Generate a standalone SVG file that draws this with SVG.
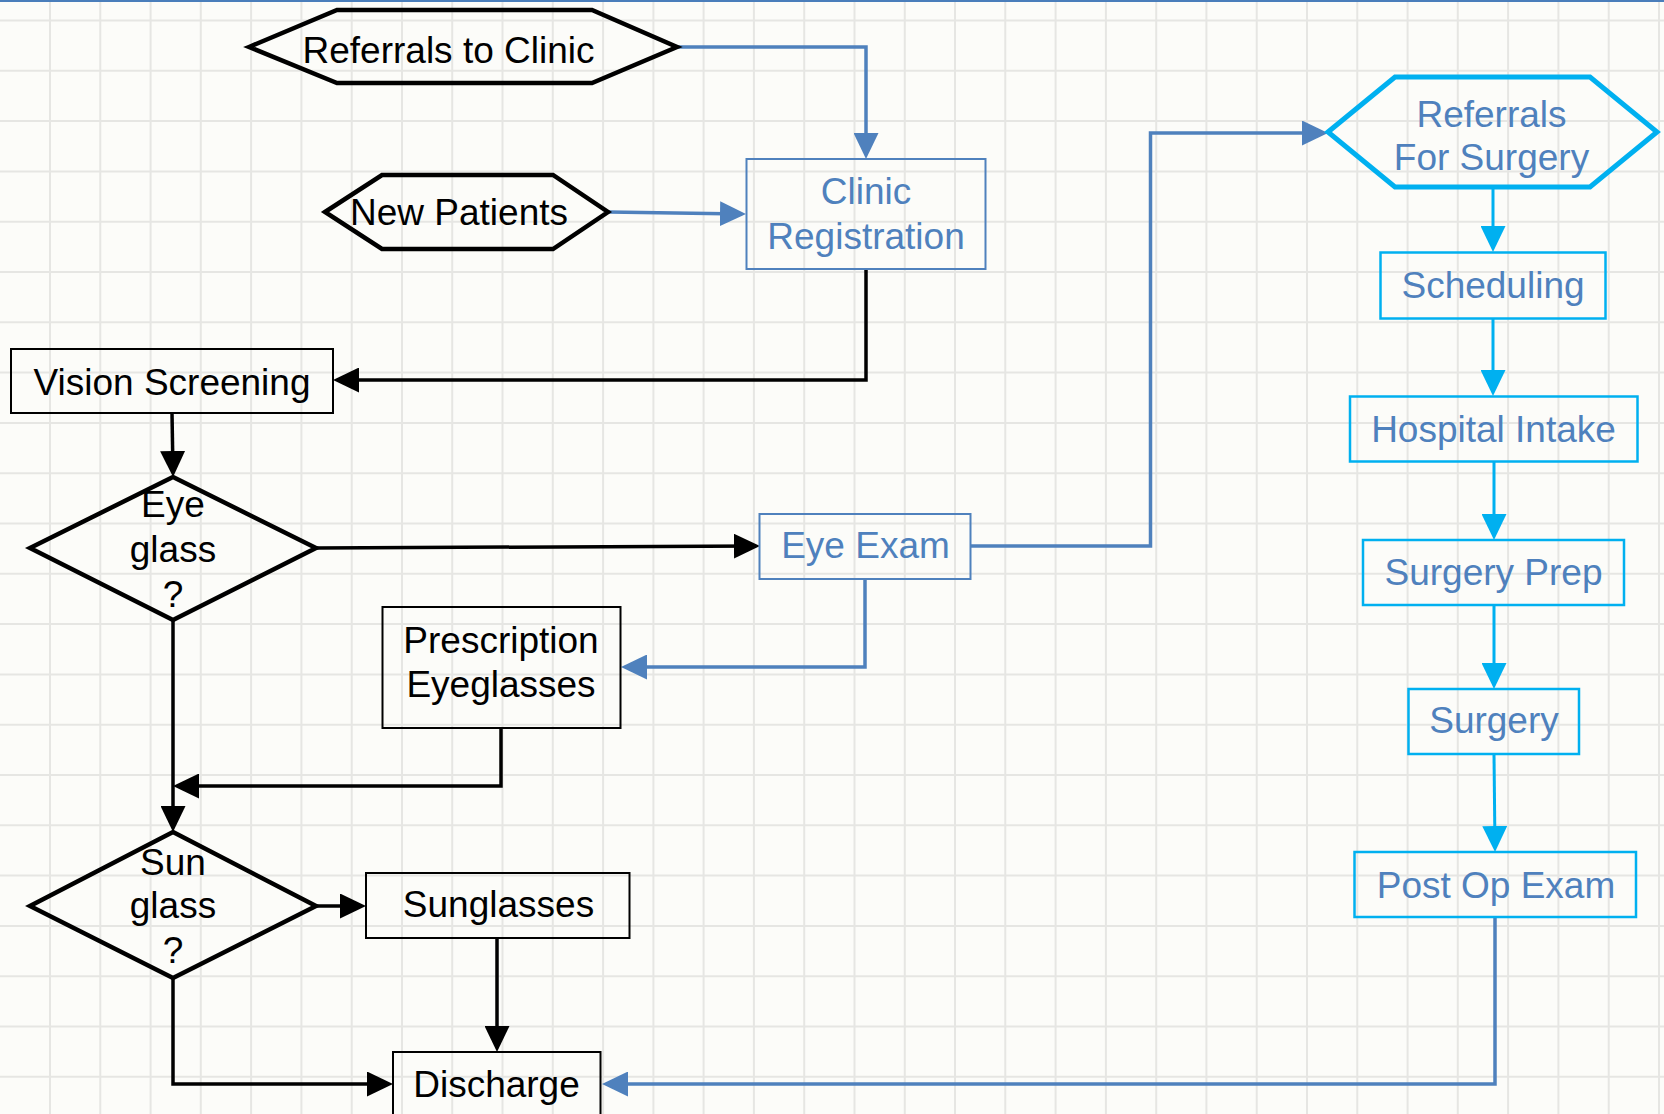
<svg xmlns="http://www.w3.org/2000/svg" width="1664" height="1114" viewBox="0 0 1664 1114">
  <defs>
    <style>
      .grid { stroke: #e6e6e3; stroke-width: 2; fill: none; }
      .lbl { font-family: "Liberation Sans", Arial, sans-serif; font-size: 37px; text-anchor: middle; }
      .dark { fill: #000000; }
      .steel { fill: #4f81bd; }
      .box-k { fill: none; stroke: #000000; stroke-width: 2; }
      .box-b { fill: none; stroke: #4f81bd; stroke-width: 2; }
      .box-c { fill: none; stroke: #00b0f0; stroke-width: 2.5; }
      .shape-k { fill: none; stroke: #000000; stroke-width: 4.5; stroke-linejoin: miter; }
      .shape-c { fill: none; stroke: #00b0f0; stroke-width: 5; stroke-linejoin: miter; }
      .c-k { fill: none; stroke: #000000; stroke-width: 3.5; marker-end: url(#ah-k); }
      .c-b { fill: none; stroke: #4f81bd; stroke-width: 3.5; marker-end: url(#ah-b); }
      .c-c { fill: none; stroke: #00b0f0; stroke-width: 3; marker-end: url(#ah-c); }
    </style>
    <marker id="ah-k" viewBox="0 0 26 25" markerWidth="26" markerHeight="25" refX="22" refY="12.5" orient="auto" markerUnits="userSpaceOnUse">
      <path d="M0,0 L26,12.5 L0,25 z" fill="#000000"/>
    </marker>
    <marker id="ah-b" viewBox="0 0 26 25" markerWidth="26" markerHeight="25" refX="22" refY="12.5" orient="auto" markerUnits="userSpaceOnUse">
      <path d="M0,0 L26,12.5 L0,25 z" fill="#4f81bd"/>
    </marker>
    <marker id="ah-c" viewBox="0 0 26 25" markerWidth="26" markerHeight="25" refX="22" refY="12.5" orient="auto" markerUnits="userSpaceOnUse">
      <path d="M0,0 L26,12.5 L0,25 z" fill="#00b0f0"/>
    </marker>
  </defs>

  <!-- page background and grid -->
  <rect x="0" y="0" width="1664" height="1114" fill="#fcfcf9"/>
  <path class="grid" d="M50,0V1114 M100.3,0V1114 M150.6,0V1114 M200.8,0V1114 M251.1,0V1114 M301.4,0V1114 M351.7,0V1114 M402,0V1114 M452.2,0V1114 M502.5,0V1114 M552.8,0V1114 M603.1,0V1114 M653.4,0V1114 M703.6,0V1114 M753.9,0V1114 M804.2,0V1114 M854.5,0V1114 M904.8,0V1114 M955,0V1114 M1005.3,0V1114 M1055.6,0V1114 M1105.9,0V1114 M1156.2,0V1114 M1206.4,0V1114 M1256.7,0V1114 M1307,0V1114 M1357.3,0V1114 M1407.6,0V1114 M1457.8,0V1114 M1508.1,0V1114 M1558.4,0V1114 M1608.7,0V1114 M1659,0V1114"/>
  <path class="grid" d="M0,20.5H1664 M0,70.8H1664 M0,121.1H1664 M0,171.4H1664 M0,221.7H1664 M0,272H1664 M0,322.3H1664 M0,372.6H1664 M0,422.9H1664 M0,473.2H1664 M0,523.5H1664 M0,573.8H1664 M0,624.1H1664 M0,674.4H1664 M0,724.7H1664 M0,775H1664 M0,825.3H1664 M0,875.6H1664 M0,925.9H1664 M0,976.2H1664 M0,1026.5H1664 M0,1076.8H1664"/>
  <rect x="0" y="0" width="1664" height="2" fill="#4a7ebb"/>

  <!-- connectors -->
  <g id="connectors">
    <path class="c-b" d="M677,47 H866 V155"/>
    <path class="c-b" d="M608,212 L742,214"/>
    <path class="c-b" d="M970,546 H1150.5 V133 H1324"/>
    <path class="c-b" d="M865,579 V667 H625"/>
    <path class="c-b" d="M1495,917 V1084 H606"/>
    <path class="c-k" d="M866,269 V380 H337"/>
    <path class="c-k" d="M172,413 L173,473"/>
    <path class="c-k" d="M316,548 L756,546"/>
    <path class="c-k" d="M173,620 V828"/>
    <path class="c-k" d="M501,728 V786 H177"/>
    <path class="c-k" d="M316,906 H362"/>
    <path class="c-k" d="M497,938 L497,1048"/>
    <path class="c-k" d="M173,978 V1084 H389"/>
    <path class="c-c" d="M1493,187 V248"/>
    <path class="c-c" d="M1493,318 V392"/>
    <path class="c-c" d="M1494,462 V536"/>
    <path class="c-c" d="M1494,605 V685"/>
    <path class="c-c" d="M1494,754 L1495,848"/>
  </g>

  <!-- clinic intake -->
  <g id="referrals-to-clinic">
    <polygon class="shape-k" points="249,47 337,10 592,10 677,47 592,83 337,83"/>
    <text class="lbl dark" x="448.5" y="63">Referrals to Clinic</text>
  </g>
  <g id="new-patients">
    <polygon class="shape-k" points="325,212 382,175 553,175 608,212 553,249 382,249"/>
    <text class="lbl dark" x="459" y="225">New Patients</text>
  </g>
  <g id="clinic-registration">
    <rect class="box-b" x="746.5" y="159" width="239" height="110"/>
    <text class="lbl steel" x="866" y="204">Clinic</text>
    <text class="lbl steel" x="866" y="249">Registration</text>
  </g>
  <g id="vision-screening">
    <rect class="box-k" x="11" y="349" width="322" height="64"/>
    <text class="lbl dark" x="172" y="395">Vision Screening</text>
  </g>
  <g id="eyeglass-decision">
    <polygon class="shape-k" points="173,477 316,548 173,620 30,548"/>
    <text class="lbl dark" x="173" y="517">Eye</text>
    <text class="lbl dark" x="173" y="562">glass</text>
    <text class="lbl dark" x="173" y="607">?</text>
  </g>
  <g id="eye-exam">
    <rect class="box-b" x="759.5" y="514" width="211" height="65"/>
    <text class="lbl steel" x="865.5" y="558">Eye Exam</text>
  </g>
  <g id="prescription-eyeglasses">
    <rect class="box-k" x="382.5" y="607" width="238" height="121"/>
    <text class="lbl dark" x="501" y="653">Prescription</text>
    <text class="lbl dark" x="501" y="697">Eyeglasses</text>
  </g>
  <g id="sunglass-decision">
    <polygon class="shape-k" points="173,832 316,906 173,978 30,906"/>
    <text class="lbl dark" x="173" y="875">Sun</text>
    <text class="lbl dark" x="173" y="918">glass</text>
    <text class="lbl dark" x="173" y="963">?</text>
  </g>
  <g id="sunglasses">
    <rect class="box-k" x="366" y="873" width="263.5" height="65"/>
    <text class="lbl dark" x="498.5" y="917">Sunglasses</text>
  </g>
  <g id="discharge">
    <rect class="box-k" x="393" y="1052" width="207.5" height="80"/>
    <text class="lbl dark" x="496.5" y="1097">Discharge</text>
  </g>

  <!-- surgical pathway -->
  <g id="referrals-for-surgery">
    <polygon class="shape-c" points="1328,132 1395,77 1590,77 1657,132 1590,187 1395,187"/>
    <text class="lbl steel" x="1491.5" y="127">Referrals</text>
    <text class="lbl steel" x="1491.5" y="170">For Surgery</text>
  </g>
  <g id="scheduling">
    <rect class="box-c" x="1380.5" y="252.5" width="225" height="66"/>
    <text class="lbl steel" x="1493" y="298">Scheduling</text>
  </g>
  <g id="hospital-intake">
    <rect class="box-c" x="1350" y="396.5" width="287.5" height="65"/>
    <text class="lbl steel" x="1493.5" y="442">Hospital Intake</text>
  </g>
  <g id="surgery-prep">
    <rect class="box-c" x="1363" y="540" width="261" height="65"/>
    <text class="lbl steel" x="1493.5" y="585">Surgery Prep</text>
  </g>
  <g id="surgery">
    <rect class="box-c" x="1408.5" y="689" width="170.5" height="65"/>
    <text class="lbl steel" x="1494" y="733">Surgery</text>
  </g>
  <g id="post-op-exam">
    <rect class="box-c" x="1354.5" y="852" width="281.5" height="65"/>
    <text class="lbl steel" x="1496" y="898">Post Op Exam</text>
  </g>
</svg>
